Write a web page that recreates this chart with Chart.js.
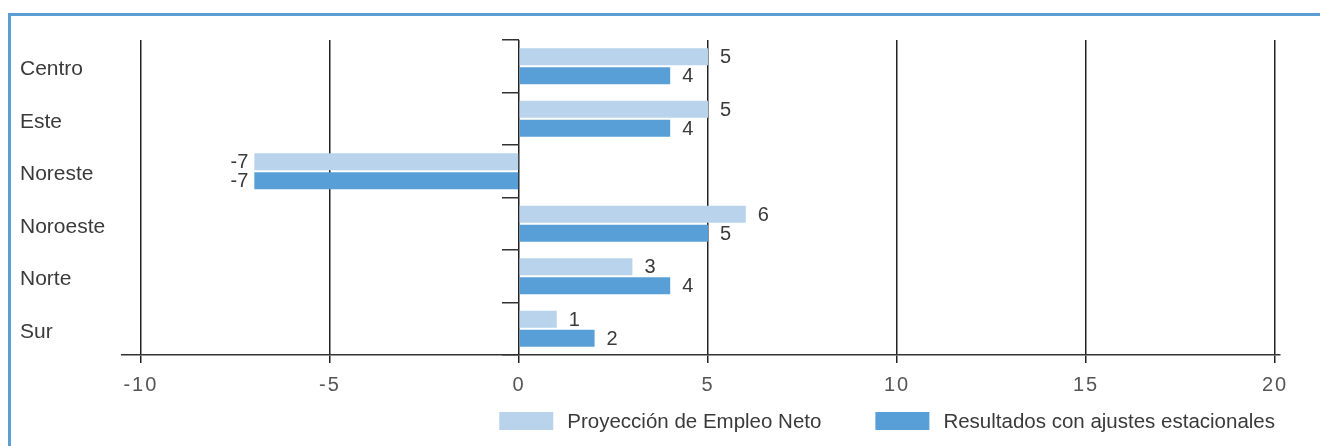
<!DOCTYPE html>
<html>
<head>
<meta charset="utf-8">
<script src="https://cdn.jsdelivr.net/npm/chart.js@4.4.0/dist/chart.umd.min.js"></script>
<style>
    html, body { margin: 0; padding: 0; background: #fff; overflow: hidden; }
    #box { position: relative; width: 1320px; height: 446px; }
    #cornice { position: absolute; left: 8px; top: 13px; right: -10px; bottom: -10px;
               border-top: 3px solid #5b9fd5; border-left: 3px solid #5b9fd5; }
    #grafico { position: absolute; left: 0; top: 0; }
</style>
</head>
<body>
<div id="box">
    <div id="cornice"></div>
    <canvas id="grafico" width="1320" height="446"></canvas>
</div>
<script>
var regioni = ["Centro", "Este", "Noreste", "Noroeste", "Norte", "Sur"];
var proiezione = [5, 5, -7, 6, 3, 1];
var destagionalizzati = [4, 4, -7, 5, 4, 2];
var nomiSerie = ["Proyección de Empleo Neto", "Resultados con ajustes estacionales"];
var tickX = [-10, -5, 0, 5, 10, 15, 20];

var coloreChiaro = "#b9d3ec";
var coloreScuro = "#579fd6";
var testo = "#3a3a3a";
var font = "'Liberation Sans', Arial, sans-serif";

// etichette dei valori accanto alle barre
var etichette = {
    id: "etichette",
    afterDatasetsDraw: function(chart) {
        var ctx = chart.ctx;
        ctx.save();
        ctx.font = "20px " + font;
        ctx.fillStyle = testo;
        ctx.textBaseline = "middle";
        chart.data.datasets.forEach(function(ds, i) {
            var meta = chart.getDatasetMeta(i);
            meta.data.forEach(function(bar, j) {
                var v = ds.data[j];
                if (v >= 0) {
                    ctx.textAlign = "left";
                    ctx.fillText(v, bar.x + 12, bar.y + 1);
                } else {
                    ctx.textAlign = "right";
                    ctx.fillText(v, bar.x - 6, bar.y + 1);
                }
            });
        });
        ctx.restore();
    }
};

// legenda in basso a destra
var legenda = {
    id: "legenda",
    afterDraw: function(chart) {
        var ctx = chart.ctx;
        var area = chart.chartArea;
        var y = chart.height - 25;
        var gap = 54;
        ctx.save();
        ctx.font = "20.5px " + font;
        ctx.textBaseline = "middle";
        ctx.textAlign = "left";
        var x = area.right - 5;
        for (var i = chart.data.datasets.length - 1; i >= 0; i--) {
            var ds = chart.data.datasets[i];
            var w = ctx.measureText(ds.label).width;
            x -= w;
            ctx.fillStyle = testo;
            ctx.fillText(ds.label, x, y + 1);
            x -= 14 + 54;
            ctx.fillStyle = ds.backgroundColor;
            ctx.fillRect(x, y - 9, 54, 18);
            x -= gap;
        }
        ctx.restore();
    }
};

// tick dell'asse x un po' spaziati
function spaziaTick(scale) {
    if (scale._spaziato) return;
    var orig = scale.drawLabels;
    scale.drawLabels = function(area) {
        this.ctx.save();
        this.ctx.letterSpacing = "2px";
        orig.call(this, area);
        this.ctx.restore();
    };
    scale._spaziato = true;
}

var ctx = document.getElementById("grafico");
var chart = new Chart(ctx, {
    type: "bar",
    data: {
        labels: regioni,
        datasets: [{
            label: nomiSerie[0],
            data: proiezione,
            backgroundColor: coloreChiaro
        }, {
            label: nomiSerie[1],
            data: destagionalizzati,
            backgroundColor: coloreScuro
        }]
    },
    options: {
        indexAxis: "y",
        responsive: false,
        animation: false,
        devicePixelRatio: 1,
        categoryPercentage: 0.72,
        barPercentage: 0.9,
        layout: { padding: { left: 20, right: 40, top: 40, bottom: 39 } },
        plugins: {
            legend: { display: false },
            tooltip: { enabled: false }
        },
        scales: {
            x: {
                min: -10.5,
                max: 20.13,
                afterBuildTicks: function(scale) {
                    scale.ticks = tickX.map(function(v) { return { value: v }; });
                },
                afterFit: spaziaTick,
                grid: { color: "#222", lineWidth: 1.5, tickLength: 8 },
                border: { color: "#333", width: 1.5 },
                ticks: {
                    padding: 10,
                    color: "#555",
                    font: { family: font, size: 20 }
                }
            },
            y: {
                grid: { display: false },
                border: { display: false },
                afterFit: function(scale) { scale.width = 102; },
                ticks: {
                    crossAlign: "far",
                    labelOffset: 3,
                    color: testo,
                    font: { family: font, size: 21 }
                }
            },
            y2: {
                type: "category",
                position: { x: 0 },
                offset: true,
                grid: { offset: true, drawOnChartArea: false, color: "#333", lineWidth: 1.5, tickLength: 17 },
                border: { display: false },
                ticks: { display: false }
            }
        }
    },
    plugins: [etichette, legenda]
});
</script>
</body>
</html>
